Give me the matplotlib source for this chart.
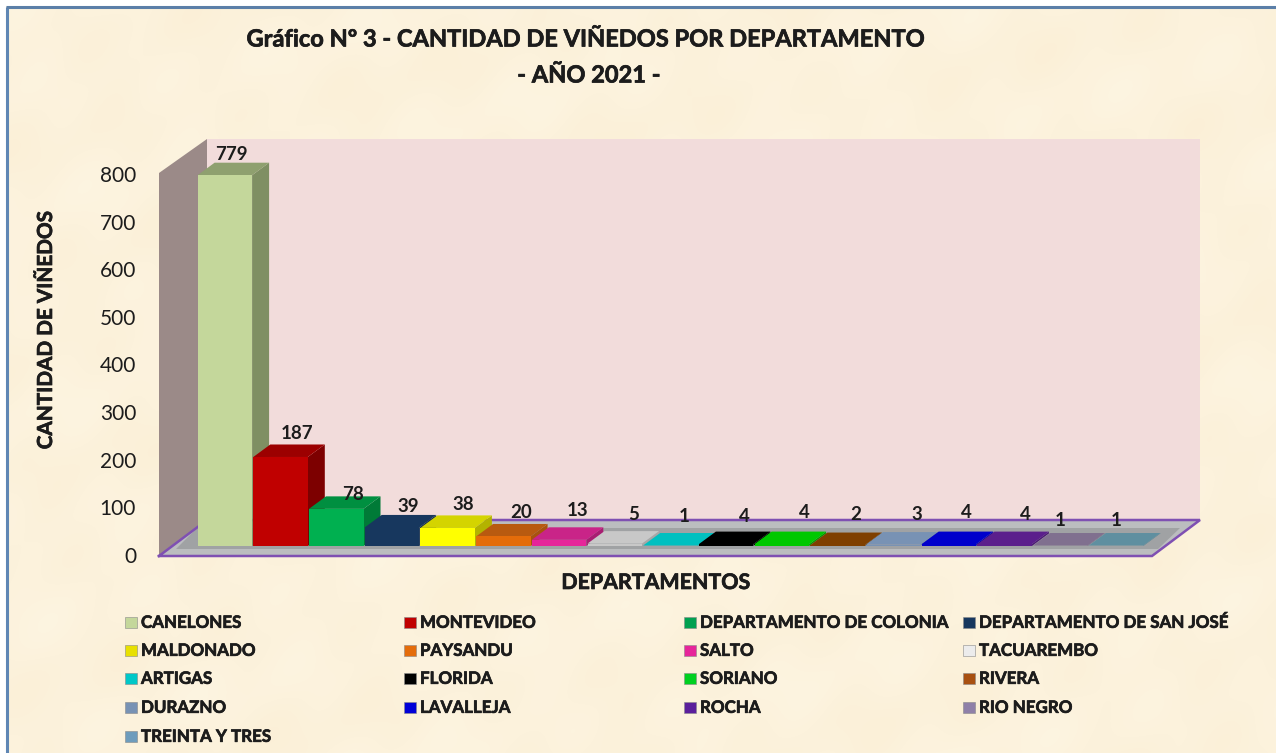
import numpy as np
import matplotlib
matplotlib.use("Agg")
import matplotlib.pyplot as plt
import matplotlib.patheffects as pe
from matplotlib.patches import Polygon, Rectangle
from matplotlib.colors import to_rgb

plt.rcParams['font.family'] = ['Lato', 'DejaVu Sans']

departments = ["CANELONES", "MONTEVIDEO", "DEPARTAMENTO DE COLONIA", "DEPARTAMENTO DE SAN JOSÉ",
               "MALDONADO", "PAYSANDU", "SALTO", "TACUAREMBO", "ARTIGAS", "FLORIDA", "SORIANO",
               "RIVERA", "DURAZNO", "LAVALLEJA", "ROCHA", "RIO NEGRO", "TREINTA Y TRES"]
vineyards = [779, 187, 78, 39, 38, 20, 13, 5, 1, 4, 4, 2, 3, 4, 4, 1, 1]
front_colors = ["#C4D79B", "#C00000", "#00B050", "#17375E", "#FFFF00", "#E46C0A", "#E6259A", "#C8C8C8",
                "#00C0C0", "#000000", "#00C800", "#7F3F00", "#7892B4", "#0000CC", "#5B1F8C", "#80708F", "#5F8FA0"]
top_colors = ["#8FA06F", "#9C0000", "#008F40", "#17375E", "#D4D400", "#B85A10", "#C92488", "#C8C8C8",
              "#00C0C0", "#000000", "#00C800", "#7F3F00", "#7892B4", "#0000CC", "#5B1F8C", "#80708F", "#5F8FA0"]
side_colors = ["#7F8F63", "#7D0000", "#007A37", "#122C4C", "#B3B300", "#A8530E", "#A81E72", "#A8A8A8",
               "#00A0A0", "#000000", "#00A000", "#6A3400", "#6680A0", "#0000A8", "#4C1A75", "#6E607C", "#50808F"]
legend_colors = ["#C4D79B", "#C00000", "#00A050", "#17375E", "#E8E000", "#E46C0A", "#E6259A", "#ECECEC",
                 "#00C8C8", "#000000", "#00D020", "#A85010", "#7892B4", "#0000D8", "#5B1F9C", "#8F80A8", "#6E9CBC"]
label_dx = [7, 16, 17, 16, 16, 18, 18, 19, 14, 18, 23, 18, 24, 17, 21, 0, 0]
label_center_py = [155, 433, 495, 507, 504, 512, 510, 514, 516, 517, 512, 514, 514, 512, 514, 520, 520]
y_ticks = [0, 100, 200, 300, 400, 500, 600, 700, 800]
legend_col_px = [125, 404, 684, 963]
legend_row_py = [622, 650, 678, 707, 736]

INK = "#1c1c1c"
bold_fx = [pe.withStroke(linewidth=0.5, foreground=INK)]

W, H = 1276, 753
fig = plt.figure(figsize=(W / 100, H / 100), dpi=100, facecolor="white")

# decoration layer in pixel coordinates
bg = fig.add_axes([0, 0, 1, 1])
bg.set_xlim(0, W)
bg.set_ylim(H, 0)
bg.axis("off")

xx, yy = np.meshgrid(np.arange(W), np.arange(H))
mottle = (np.sin(xx / 47.0 + yy / 31.0) + np.sin(xx / 19.0 - yy / 43.0 + 1.3)
          + np.sin(xx / 83.0 + yy / 17.0 + 2.1) + np.sin(xx / 11.0 + yy / 13.0) * 0.5) / 3.5
base = np.array(to_rgb("#FCF2DC"))
tex = base[None, None, :] + mottle[..., None] * np.array([0.003, 0.009, 0.018])
tex = np.clip(tex, 0, 1)
bg.imshow(tex, extent=(6, W, H, 6), aspect="auto", zorder=0)
bg.set_xlim(0, W)
bg.set_ylim(H, 0)
bg.plot([7, 7], [H, 6.5], color="#5F86B4", lw=2.2, zorder=1, solid_capstyle="butt")
bg.plot([6, W], [6.5, 6.5], color="#5B7FA8", lw=2.2, zorder=1, solid_capstyle="butt")

# walls and floor
bg.add_patch(Polygon([(207, 139), (1200, 139), (1200, 520), (207, 520)], fc="#F2DCDB", ec="none", zorder=1))
bg.add_patch(Polygon([(159, 173), (207, 139), (207, 520), (159, 556)], fc="#9B8A88", ec="none", zorder=1))
bg.add_patch(Polygon([(159, 556), (207, 520), (1200, 520), (1152, 556)], fc="#BBBDBF", ec="none", zorder=1))
bg.add_patch(Polygon([(176, 549), (197, 528), (1180, 528), (1158, 549)], fc="#98999B", ec="none", zorder=1, alpha=0.75))
bg.plot([159, 207, 1200, 1152, 159], [556, 520, 520, 556, 556], color="#7F50B2", lw=1.8, zorder=1.5,
        solid_joinstyle="miter")

# value axis on the wall
vax = fig.add_axes([159 / W, 1 - 555 / H, 48 / W, (555 - 174) / H])
vax.patch.set_alpha(0)
vax.set_xticks([])
vax.set_ylim(0, 800)
vax.set_yticks(y_ticks)
vax.tick_params(axis="y", length=0, pad=16.5, labelsize=15, labelcolor=INK)
for s in vax.spines.values():
    s.set_visible(False)
vax.set_ylabel("CANTIDAD DE VIÑEDOS", fontsize=14.9, fontweight="bold", color=INK, path_effects=bold_fx)
vax.yaxis.set_label_coords((56 - 159) / 48, (555 - 331) / (555 - 174))

# bars: one category = 55.7 px, one unit = 0.476 px
step_px, unit_px = 55.7, 0.476
x0_px, y0_py = 224.85, 546
ax = fig.add_axes([0, 0, 1, 1])
ax.patch.set_alpha(0)
ax.axis("off")
ax.set_xlim(-x0_px / step_px, (W - x0_px) / step_px)
ax.set_ylim((y0_py - H) / unit_px, y0_py / unit_px)
ddx, ddy = 17 / step_px, 12.5 / unit_px
hw = 54.5 / step_px / 2
for i, v in enumerate(vineyards):
    z = 3 + i
    ax.add_patch(Polygon([(i + hw, 0), (i + hw + ddx, ddy), (i + hw + ddx, v + ddy), (i + hw, v)],
                         fc=side_colors[i], ec="none", zorder=z))
    ax.add_patch(Polygon([(i - hw, v), (i - hw + ddx, v + ddy), (i + hw + ddx, v + ddy), (i + hw, v)],
                         fc=top_colors[i], ec="none", zorder=z))
    ax.bar(i, v, width=2 * hw, color=front_colors[i], edgecolor="none", zorder=z + 0.5)

for i, v in enumerate(vineyards):
    offset_y = (y0_py - unit_px * v) - label_center_py[i]
    ax.annotate(str(v), xy=(i, v), xytext=(label_dx[i], offset_y), textcoords="offset pixels",
                ha="center", va="center", fontsize=13.5, fontweight="bold", color=INK, zorder=40)

# titles
bg.text(585, 39, "Gráfico Nº 3 - CANTIDAD DE VIÑEDOS POR DEPARTAMENTO", ha="center", va="center",
        fontsize=17, fontweight="bold", color=INK, zorder=5, path_effects=bold_fx)
bg.text(589, 75, "- AÑO 2021 -", ha="center", va="center",
        fontsize=17, fontweight="bold", color=INK, zorder=5, path_effects=bold_fx)
bg.text(656, 583, "DEPARTAMENTOS", ha="center", va="center",
        fontsize=15.4, fontweight="bold", color=INK, zorder=5, path_effects=bold_fx)

# legend, filled row by row in four columns
for i, name in enumerate(departments):
    row, col = divmod(i, 4)
    mx, my = legend_col_px[col], legend_row_py[row]
    bg.add_patch(Rectangle((mx, my - 5.5), 12, 11, fc=legend_colors[i], ec="#8a8a8a", lw=0.4, zorder=5))
    bg.text(mx + 16, my + 0.8, name, ha="left", va="center", fontsize=12.2, fontweight="bold",
            color=INK, zorder=5, path_effects=bold_fx)

fig.savefig("out.png", dpi=100, facecolor="white")
